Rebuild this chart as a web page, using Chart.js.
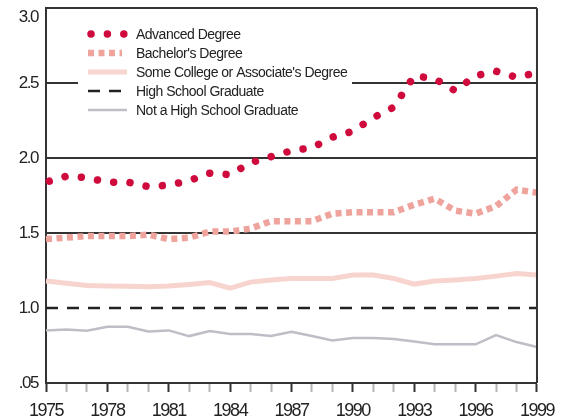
<!DOCTYPE html>
<html>
<head>
<meta charset="utf-8">
<script src="https://cdn.jsdelivr.net/npm/chart.js@4.4.1/dist/chart.umd.min.js"></script>
<style>
  html, body { margin: 0; padding: 0; background: #fff; }
  #wrap { width: 567px; height: 419px; }
</style>
</head>
<body>
<div id="wrap"><canvas id="myChartLines"></canvas></div>
<script>
const years = [
  "1975", "1976", "1977", "1978", "1979", "1980", "1981", "1982", "1983",
  "1984", "1985", "1986", "1987", "1988", "1989", "1990", "1991", "1992",
  "1993", "1994", "1995", "1996", "1997", "1998", "1999",
];
const advanced = [1.84, 1.88, 1.87, 1.84, 1.84, 1.81, 1.82, 1.85, 1.9, 1.89, 1.97, 2.01, 2.05,
  2.07, 2.14, 2.18, 2.27, 2.34, 2.55, 2.53, 2.45, 2.55, 2.58, 2.54, 2.57];
const bachelors = [1.46, 1.47, 1.48, 1.48, 1.48, 1.49, 1.46, 1.47, 1.51, 1.51, 1.53, 1.58, 1.58,
  1.58, 1.63, 1.64, 1.64, 1.64, 1.69, 1.73, 1.65, 1.63, 1.68, 1.79, 1.77];
const someCollege = [1.18, 1.165, 1.15, 1.147, 1.145, 1.143, 1.147, 1.157, 1.17, 1.133, 1.173, 1.187, 1.197,
  1.198, 1.198, 1.22, 1.22, 1.197, 1.16, 1.18, 1.187, 1.197, 1.213, 1.23, 1.22];
const highSchool = [1, 1, 1, 1, 1, 1, 1, 1, 1, 1, 1, 1, 1, 1, 1, 1, 1, 1, 1, 1, 1, 1, 1, 1, 1];
const notHighSchool = [0.85, 0.857, 0.849, 0.875, 0.875, 0.843, 0.851, 0.813, 0.847, 0.827, 0.827, 0.813, 0.842,
  0.813, 0.783, 0.8, 0.8, 0.793, 0.777, 0.758, 0.758, 0.758, 0.82, 0.773, 0.74];
const yTicks = [0.5, 1.0, 1.5, 2.0, 2.5, 3.0];

const FONT = "'Liberation Sans', Arial, sans-serif";
const INK = "#222";

// legend drawn inside the plot, on a white box
const boxLegend = {
  id: "boxLegend",
  beforeDraw(chart) {
    // the original uses a condensed face, squeeze the letters a bit
    chart.ctx.letterSpacing = "-1.5px";
  },
  afterDatasetsDraw(chart) {
    const ctx = chart.ctx;
    const rows = [34, 53, 72, 91, 110];
    ctx.save();
    ctx.fillStyle = "#fff";
    ctx.fillRect(78, 18, 274, 104);
    chart.data.datasets.forEach((ds, i) => {
      const y = rows[i];
      ctx.beginPath();
      ctx.strokeStyle = ds.borderColor;
      ctx.lineWidth = ds.borderWidth;
      ctx.lineCap = ds.borderCapStyle || "butt";
      ctx.setLineDash(ds.borderDash || []);
      ctx.lineDashOffset = 0;
      ctx.moveTo(ds.legendStart || 88, y);
      ctx.lineTo(ds.legendEnd || 127, y);
      ctx.stroke();
      ctx.setLineDash([]);
      ctx.fillStyle = INK;
      ctx.font = "14px " + FONT;
      ctx.letterSpacing = "-0.5px";
      ctx.textBaseline = "middle";
      ctx.fillText(ds.label, 136, y + 1);
    });
    ctx.restore();
  },
  afterDraw(chart) {
    const a = chart.chartArea;
    const ctx = chart.ctx;
    ctx.save();
    ctx.strokeStyle = "#333";
    ctx.lineWidth = 2;
    ctx.beginPath();
    ctx.moveTo(a.right, a.top);
    ctx.lineTo(a.right, a.bottom);
    ctx.stroke();
    ctx.restore();
  },
};

new Chart(document.getElementById("myChartLines"), {
  type: "line",
  data: {
    labels: years,
    datasets: [
      {
        label: "Advanced Degree",
        data: advanced,
        borderColor: "#cf0a3c",
        borderWidth: 7.5,
        borderCapStyle: "round",
        borderDash: [0.01, 16.4],
        borderDashOffset: 13,
        legendStart: 91,
        legendEnd: 125,
      },
      {
        label: "Bachelor's Degree",
        data: bachelors,
        borderColor: "#eea49d",
        borderWidth: 6.5,
        borderDash: [6, 4.5],
        legendEnd: 122,
      },
      {
        label: "Some College or Associate's Degree",
        data: someCollege,
        borderColor: "#f8d4cf",
        borderWidth: 5,
      },
      {
        label: "High School Graduate",
        data: highSchool,
        borderColor: INK,
        borderWidth: 2.5,
        borderDash: [12, 9],
        legendEnd: 121,
      },
      {
        label: "Not a High School Graduate",
        data: notHighSchool,
        borderColor: "#bebec6",
        borderWidth: 2.5,
      },
    ],
  },
  options: {
    responsive: true,
    maintainAspectRatio: false,
    animation: false,
    events: [],
    layout: { padding: { top: 8.3, right: 26, left: 0, bottom: 0 } },
    elements: { point: { radius: 0 }, line: { tension: 0 } },
    plugins: { legend: { display: false }, tooltip: { enabled: false } },
    scales: {
      x: {
        offset: false,
        afterFit: (s) => { s.height = 36; },
        border: { display: true, color: "#333", width: 2 },
        grid: {
          drawOnChartArea: false,
          drawTicks: true,
          tickLength: 9,
          tickWidth: 2,
          tickColor: (c) => (c.index % 3 === 0 ? "#333" : "#b5b5b5"),
        },
        ticks: {
          autoSkip: false,
          maxRotation: 0,
          padding: 10,
          color: INK,
          font: { family: FONT, size: 18, lineHeight: 1 },
          callback: (v, i) => (i % 3 === 0 ? years[i] : ""),
        },
      },
      y: {
        min: 0.5,
        max: 3.0,
        afterFit: (s) => {
          s.width = 46;
          s.paddingTop = 0;
          s.paddingBottom = 0;
        },
        afterBuildTicks: (s) => { s.ticks = yTicks.map((v) => ({ value: v })); },
        border: { display: true, color: "#333", width: 2 },
        grid: {
          drawTicks: false,
          lineWidth: 2,
          color: (c) => (c.tick && (c.tick.value === 1 || c.tick.value === 0.5) ? "rgba(0,0,0,0)" : "#333"),
        },
        ticks: {
          padding: 8,
          color: INK,
          font: { family: FONT, size: 17, lineHeight: 1.05 },
          // top label sits just under the frame in the original
          callback: (v) => (v === 0.5 ? ".05" : v === 3 ? ["", "3.0"] : v.toFixed(1)),
        },
      },
    },
  },
  plugins: [boxLegend],
});
</script>
</body>
</html>
